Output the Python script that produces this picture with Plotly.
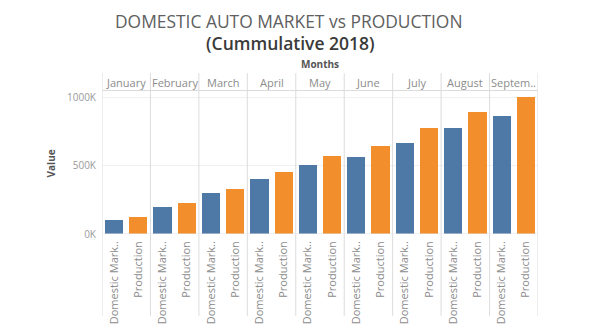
import plotly.graph_objects as go

# Cumulative 2018 volumes (units)
months = ["January", "February", "March", "April", "May", "June", "July", "August", "Septem.."]
series_names = ["Domestic Market", "Production"]
series_tick_labels = ["Domestic Mark..", "Production"]
domestic = [102000, 199000, 298000, 401000, 505000, 562000, 670000, 776000, 863000]
production = [128000, 224000, 334000, 454000, 574000, 643000, 776000, 895000, 1005000]
value_ticks = [0, 500000, 1000000]
value_tick_labels = ["0K", "500K", "1000K"]

W, H = 600, 336
ML, MR, MT, MB = 102, 62, 91, 93
plot_h = H - MT - MB
plot_w = W - ML - MR

def py(px):
    """Pixel row -> paper y."""
    return (H - MB - px) / plot_h

def px_x(px):
    """Pixel column -> paper x."""
    return (px - ML) / plot_w

n = len(months)
x_dom = [2 * i for i in range(n)]
x_prod = [2 * i + 1 for i in range(n)]

BLUE = "#4e79a7"
ORANGE = "#f28e2b"
LINE = "#dcdcdc"
FONT = "Open Sans"

fig = go.Figure()
fig.add_bar(x=x_dom, y=domestic, name=series_names[0], marker_color=BLUE,
            marker_line_width=0, width=0.75)
fig.add_bar(x=x_prod, y=production, name=series_names[1], marker_color=ORANGE,
            marker_line_width=0, width=0.75)

shapes = []
# month divider lines through header, plot and label strip
for i in range(n + 1):
    shapes.append(dict(type="line", xref="x", yref="paper", x0=2 * i - 0.5, x1=2 * i - 0.5,
                       y0=py(330), y1=py(72), line=dict(color=LINE, width=1)))
# header bottom rule
shapes.append(dict(type="line", xref="paper", yref="paper", x0=0, x1=1,
                   y0=py(90.5), y1=py(90.5), line=dict(color=LINE, width=1)))
# baseline
shapes.append(dict(type="line", xref="paper", yref="y", x0=0, x1=1,
                   y0=0, y1=0, line=dict(color="#e4e4e4", width=1)))

annotations = []
for i, m in enumerate(months):
    annotations.append(dict(x=2 * i + 0.5, y=py(82), xref="x", yref="paper", text=m,
                            showarrow=False, font=dict(family=FONT, size=11, color="#8c8c8c"),
                            xanchor="center", yanchor="middle"))
annotations.append(dict(x=0.5, y=py(62), xref="paper", yref="paper", text="<b>Months</b>",
                        showarrow=False, font=dict(family=FONT, size=10, color="#555555"),
                        xanchor="center", yanchor="middle"))
annotations.append(dict(x=px_x(51), y=py(168), xref="paper", yref="paper",
                        text="<b>Value</b>", textangle=-90, showarrow=False,
                        font=dict(family=FONT, size=10, color="#555555"),
                        xanchor="center", yanchor="middle"))
annotations.append(dict(x=px_x(289), y=py(17), xref="paper", yref="paper",
                        text="DOMESTIC AUTO MARKET vs PRODUCTION", showarrow=False,
                        font=dict(family=FONT, size=17.4, color="#606060", weight=400),
                        xanchor="center", yanchor="middle"))
annotations.append(dict(x=px_x(290), y=py(40), xref="paper", yref="paper",
                        text="(Cummulative 2018)", showarrow=False,
                        font=dict(family=FONT, size=17.5, color="#3a3a3a", weight=600),
                        xanchor="center", yanchor="middle"))

tickvals = []
ticktext = []
for i in range(n):
    tickvals += [x_dom[i], x_prod[i]]
    ticktext += series_tick_labels

fig.update_layout(
    width=W, height=H,
    margin=dict(l=ML, r=MR, t=MT, b=MB, pad=0),
    paper_bgcolor="white", plot_bgcolor="white",
    showlegend=False,
    bargap=0,
    shapes=shapes,
    annotations=annotations,
    xaxis=dict(range=[-0.5, 2 * n - 0.5], tickvals=tickvals, ticktext=ticktext,
               tickangle=-90, showgrid=False, zeroline=False, showline=False,
               ticks="", ticklabelstandoff=4,
               tickfont=dict(family=FONT, size=11, color="#8c8c8c")),
    yaxis=dict(range=[0, 1050000], tickvals=value_ticks, ticktext=value_tick_labels,
               showgrid=True, gridcolor="#f0f0f0", zeroline=False, showline=False,
               ticks="", ticklabelstandoff=5,
               tickfont=dict(family=FONT, size=10, color="#9a9a9a")),
)

fig.write_html("out.html")
